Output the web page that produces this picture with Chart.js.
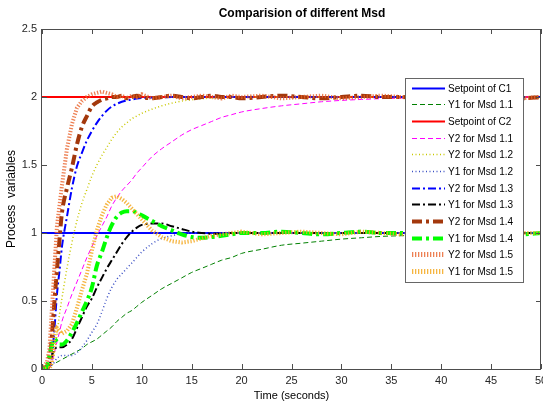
<!DOCTYPE html>
<html>
<head>
<meta charset="utf-8">
<script src="https://cdn.jsdelivr.net/npm/chart.js@4.4.1/dist/chart.umd.min.js"></script>
<style>
  html, body { margin: 0; padding: 0; background: #fff; }
  #wrap { width: 543px; height: 408px; }
</style>
</head>
<body>
<div id="wrap"><canvas id="grafico" width="543" height="408"></canvas></div>
<script>
// time axis shared by the response curves (seconds)
var tempo = [0, 0.5, 0.75, 1, 1.25, 1.5, 1.75, 2,
  2.5, 3, 3.5, 4, 4.5, 5, 5.5, 6, 6.5, 7, 7.5, 8, 8.5, 9, 9.5, 10,
  11, 12, 13, 14, 15, 16, 17, 18, 19, 20,
  22, 24, 26, 28, 30, 32, 34, 36, 38, 40, 42, 44, 46, 48, 50];

var spTempo = [0, 50];
var setpointC1 = [1, 1];
var setpointC2 = [2, 2];

var y1Msd11 = [0, 0, 0.01, 0.03, 0.04, 0.05, 0.06, 0.07,
  0.09, 0.11, 0.13, 0.15, 0.18, 0.2, 0.22, 0.25, 0.28, 0.31, 0.35, 0.38, 0.41, 0.43, 0.46, 0.49,
  0.54, 0.59, 0.63, 0.67, 0.71, 0.74, 0.77, 0.8, 0.82, 0.85,
  0.88, 0.91, 0.925, 0.94, 0.955, 0.965, 0.975, 0.98, 0.985, 0.99, 0.993, 0.995, 0.997, 0.998, 1.0];

var y2Msd11 = [0, 0, 0.01, 0.05, 0.12, 0.2, 0.27, 0.35,
  0.45, 0.55, 0.64, 0.73, 0.82, 0.9, 0.98, 1.05, 1.12, 1.2, 1.26, 1.31, 1.35, 1.39, 1.44, 1.48,
  1.56, 1.62, 1.67, 1.72, 1.76, 1.79, 1.82, 1.85, 1.87, 1.89,
  1.915, 1.935, 1.95, 1.965, 1.975, 1.982, 1.988, 1.992, 1.995, 1.997, 1.998, 1.999, 2, 2, 2];

var y2Msd12 = [0, 0, 0.01, 0.05, 0.12, 0.25, 0.4, 0.52,
  0.74, 0.93, 1.09, 1.22, 1.32, 1.42, 1.5, 1.57, 1.63, 1.69, 1.74, 1.78, 1.81, 1.84, 1.86, 1.88,
  1.91, 1.935, 1.955, 1.97, 1.98, 1.987, 1.992, 1.995, 1.997, 1.998,
  2, 2, 2, 2, 2, 2, 2, 2, 2, 2, 2, 2, 2, 2, 2];

var y1Msd12 = [0, 0, 0.01, 0.03, 0.05, 0.08, 0.09, 0.1,
  0.1, 0.1, 0.12, 0.16, 0.21, 0.27, 0.33, 0.42, 0.52, 0.6, 0.66, 0.7, 0.74, 0.78, 0.82, 0.86,
  0.92, 0.96, 0.98, 0.995, 1, 1, 1, 1, 1, 1,
  1, 1, 1, 1, 1, 1, 1, 1, 1, 1, 1, 1, 1, 1, 1];

var y2Msd13 = [0, 0, 0.03, 0.1, 0.3, 0.55, 0.72, 0.9,
  1.12, 1.33, 1.49, 1.59, 1.68, 1.75, 1.81, 1.86, 1.9, 1.93, 1.95, 1.965, 1.975, 1.982, 1.988, 1.992,
  1.996, 1.998, 2, 2, 2, 2, 2, 2, 2, 2,
  2, 2, 2, 2, 2, 2, 2, 2, 2, 2, 2, 2, 2, 2, 2];

var y1Msd13 = [0, 0, 0.03, 0.1, 0.14, 0.16, 0.16, 0.16,
  0.18, 0.22, 0.3, 0.38, 0.46, 0.52, 0.6, 0.67, 0.74, 0.8, 0.86, 0.92, 0.97, 1.01, 1.04, 1.06,
  1.07, 1.07, 1.05, 1.03, 1.01, 1.0, 0.995, 0.995, 1.0, 1.0,
  1, 1, 1, 1, 1, 1, 1, 1, 1, 1, 1, 1, 1, 1, 1];

var y2Msd14 = [0, 0.02, 0.05, 0.25, 0.5, 0.73, 0.95, 1.15,
  1.33, 1.48, 1.65, 1.78, 1.86, 1.93, 1.96, 1.98, 1.99, 2.0, 2.0, 2.01, 1.99, 2.0, 2.01, 2.0,
  1.99, 2.0, 2.01, 2.0, 1.99, 2.0, 2.01, 2.0, 2.0, 1.99,
  2.0, 2.01, 2.0, 1.99, 2.0, 2.01, 2.0, 2.0, 1.99, 2.01, 2.0, 2.0, 2.01, 1.99, 2.0];

var y1Msd14 = [0, 0.02, 0.1, 0.18, 0.22, 0.2, 0.18, 0.18,
  0.21, 0.27, 0.34, 0.42, 0.5, 0.6, 0.76, 0.86, 0.97, 1.06, 1.12, 1.15, 1.16, 1.16, 1.15, 1.13,
  1.09, 1.05, 1.02, 0.99, 0.97, 0.965, 0.97, 0.98, 0.99, 1.0,
  1.0, 1.01, 1.0, 0.99, 1.0, 1.01, 1.0, 1.0, 0.99, 1.0, 1.01, 1.0, 1.0, 0.99, 1.0];

var y2Msd15 = [0, 0.05, 0.15, 0.45, 0.75, 1.05, 1.2, 1.35,
  1.62, 1.8, 1.92, 1.97, 2.0, 2.02, 2.03, 2.04, 2.03, 2.02, 2.0, 2.01, 1.99, 2.01, 2.0, 2.02,
  1.99, 2.0, 2.01, 1.99, 2.0, 2.01, 2.0, 1.99, 2.01, 2.0,
  2.01, 1.99, 2.0, 2.01, 1.99, 2.0, 2.01, 2.0, 1.99, 2.01, 2.0, 2.0, 2.01, 1.99, 2.0];

var y1Msd15 = [0, 0, 0, 0.05, 0.25, 0.3, 0.28, 0.26,
  0.28, 0.33, 0.45, 0.58, 0.7, 0.87, 1.02, 1.13, 1.21, 1.26, 1.27, 1.25, 1.22, 1.18, 1.14, 1.1,
  1.02, 0.97, 0.94, 0.93, 0.94, 0.96, 0.98, 0.99, 1.0, 1.01,
  0.99, 1.0, 1.01, 1.0, 0.99, 1.01, 1.0, 0.99, 1.0, 1.01, 1.0, 0.99, 1.01, 1.0, 1.0];

function pontos(xs, ys)
{
    return xs.map(function (t, i) { return { x: t, y: ys[i] }; });
}

var dashed = [5, 3];
var dotted = [1, 2.5];
var dashDot = [8, 3, 2, 3];
var hatch = [1.3, 1.7];

var datasets = [
    { label: 'Setpoint of C1', data: pontos(spTempo, setpointC1), borderColor: '#0000ff', borderWidth: 2 },
    { label: 'Y1 for Msd 1.1', data: pontos(tempo, y1Msd11), borderColor: '#008000', borderWidth: 1, borderDash: dashed },
    { label: 'Setpoint of C2', data: pontos(spTempo, setpointC2), borderColor: '#ff0000', borderWidth: 2 },
    { label: 'Y2 for Msd 1.1', data: pontos(tempo, y2Msd11), borderColor: '#ff00ff', borderWidth: 1, borderDash: dashed },
    { label: 'Y2 for Msd 1.2', data: pontos(tempo, y2Msd12), borderColor: '#c8c800', borderWidth: 1.5, borderDash: dotted },
    { label: 'Y1 for Msd 1.2', data: pontos(tempo, y1Msd12), borderColor: '#3a4fc4', borderWidth: 1.5, borderDash: dotted },
    { label: 'Y2 for Msd 1.3', data: pontos(tempo, y2Msd13), borderColor: '#0000ff', borderWidth: 2, borderDash: dashDot },
    { label: 'Y1 for Msd 1.3', data: pontos(tempo, y1Msd13), borderColor: '#000000', borderWidth: 2, borderDash: dashDot },
    { label: 'Y2 for Msd 1.4', data: pontos(tempo, y2Msd14), borderColor: '#a3380c', borderWidth: 4, borderDash: [10, 4, 3, 4] },
    { label: 'Y1 for Msd 1.4', data: pontos(tempo, y1Msd14), borderColor: '#00ff00', borderWidth: 4, borderDash: [10, 4, 3, 4] },
    { label: 'Y2 for Msd 1.5', data: pontos(tempo, y2Msd15), borderColor: 'rgba(232,96,40,0.8)', borderWidth: 4, borderDash: hatch },
    { label: 'Y1 for Msd 1.5', data: pontos(tempo, y1Msd15), borderColor: 'rgba(245,168,30,0.85)', borderWidth: 4, borderDash: hatch }
];

datasets.forEach(function (d, i) {
    d.pointRadius = 0;
    d.fill = false;
    d.order = datasets.length - i; // later series on top, as in the original plot
    if (d.borderDash !== hatch) d.cubicInterpolationMode = 'monotone';
});

// box, inward ticks, title and legend drawn the MATLAB way
var moldura = {
    id: 'moldura',
    afterDatasetsDraw: function (chart)
    {
        var ctx = chart.ctx, a = chart.chartArea, sx = chart.scales.x, sy = chart.scales.y;
        ctx.save();
        ctx.strokeStyle = '#4d4d4d';
        ctx.lineWidth = 1;
        ctx.setLineDash([]);
        ctx.strokeRect(a.left - 0.5, a.top + 0.5, a.right - a.left, a.bottom - a.top);
        ctx.beginPath();
        sx.ticks.forEach(function (tk) {
            var px = Math.round(sx.getPixelForValue(tk.value)) + 0.5;
            ctx.moveTo(px, a.bottom); ctx.lineTo(px, a.bottom - 5);
            ctx.moveTo(px, a.top); ctx.lineTo(px, a.top + 5);
        });
        sy.ticks.forEach(function (tk) {
            var py = Math.round(sy.getPixelForValue(tk.value)) + 0.5;
            ctx.moveTo(a.left, py); ctx.lineTo(a.left + 5, py);
            ctx.moveTo(a.right, py); ctx.lineTo(a.right - 5, py);
        });
        ctx.stroke();
        ctx.restore();
    },
    afterDraw: function (chart)
    {
        var ctx = chart.ctx;
        ctx.save();
        ctx.fillStyle = '#000';
        ctx.font = 'bold 12px "Liberation Sans", Arial, sans-serif';
        ctx.textAlign = 'center';
        ctx.textBaseline = 'middle';
        ctx.fillText('Comparision of different Msd', 302, 14);

        // legend
        var lx = 405, ly = 78, lw = 118, lh = 204;
        ctx.fillStyle = '#fff';
        ctx.fillRect(lx, ly, lw, lh);
        ctx.strokeStyle = '#666';
        ctx.lineWidth = 1;
        ctx.strokeRect(lx + 0.5, ly + 0.5, lw, lh);
        ctx.font = '10px "Liberation Sans", Arial, sans-serif';
        ctx.textAlign = 'left';
        chart.data.datasets.forEach(function (d) {
            var y = Math.round(87.5 + chart.data.datasets.indexOf(d) * 16.67) + 0.5;
            ctx.beginPath();
            ctx.strokeStyle = d.borderColor;
            ctx.lineWidth = d.borderDash === hatch ? 5 : d.borderWidth;
            ctx.setLineDash(d.borderDash || []);
            ctx.lineCap = 'butt';
            ctx.moveTo(412, y);
            ctx.lineTo(445, y);
            ctx.stroke();
            ctx.setLineDash([]);
            ctx.fillStyle = '#000';
            ctx.fillText(d.label, 448, y + 0.5);
        });
        ctx.restore();
    }
};

Chart.defaults.font.family = '"Liberation Sans", Arial, sans-serif';

var ctxGrafico = document.getElementById('grafico');
var grafico = new Chart(ctxGrafico, {
    type: 'line',
    data: { datasets: datasets },
    options: {
        responsive: false,
        animation: false,
        events: [],
        layout: { padding: { top: 29, right: 2, left: 0, bottom: 0 } },
        plugins: { legend: { display: false }, tooltip: { enabled: false }, title: { display: false } },
        scales: {
            x: {
                type: 'linear', min: 0, max: 50,
                ticks: { stepSize: 5, padding: 5, color: '#262626', font: { size: 11 }, maxRotation: 0 },
                grid: { display: false, drawTicks: false },
                border: { display: false },
                title: { display: true, text: 'Time (seconds)', color: '#000', font: { size: 11 }, padding: { top: 0, bottom: 5 } },
                afterFit: function (s) { s.height = 39; s.paddingLeft = 0; s.paddingRight = 0; }
            },
            y: {
                type: 'linear', min: 0, max: 2.5,
                ticks: {
                    stepSize: 0.5, padding: 5, color: '#262626', font: { size: 11 },
                    callback: function (v) { return String(v); }
                },
                grid: { display: false, drawTicks: false },
                border: { display: false },
                title: { display: true, text: 'Process  variables', color: '#000', font: { size: 12 }, padding: { top: 4, bottom: 4 } },
                afterFit: function (s) { s.width = 42; s.paddingTop = 0; s.paddingBottom = 0; }
            }
        }
    },
    plugins: [moldura]
});
</script>
</body>
</html>
